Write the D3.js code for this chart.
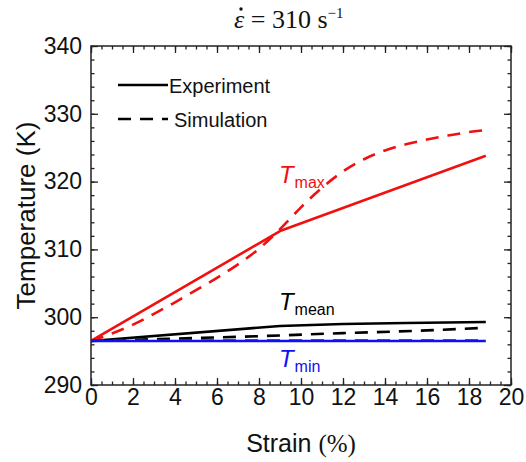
<!DOCTYPE html>
<html>
<head>
<meta charset="utf-8">
<script src="https://cdn.jsdelivr.net/npm/d3@7"></script>
<style>
  body { margin: 0; background: #fff; }
  text { font-family: Arial, "Liberation Sans", sans-serif; }
  .serif { font-family: "Liberation Serif", "Times New Roman", serif; }
</style>
</head>
<body>
<div class="chart"></div>
<script>
const margin = {top: 46, left: 91, right: 15, bottom: 77};
const width = 526 - margin.left - margin.right,
    height = 462 - margin.top - margin.bottom;

// experiment (solid) and simulation (dashed) curves, strain in %, temperature in K
const expMaxStrain = [0, 9, 18.8];
const expMaxTemp = [296.5, 312.7, 323.8];
const simMaxStrain = [0, 1, 2, 3, 4, 5, 6, 7, 8, 9, 10, 11, 12, 13, 14, 15, 16, 17, 18, 18.8];
const simMaxTemp = [296.5, 297.6, 298.9, 300.5, 302.2, 304.0, 305.8, 307.8, 310.1, 313.0,
    316.2, 319.1, 321.5, 323.3, 324.6, 325.5, 326.2, 326.8, 327.3, 327.6];
const expMeanStrain = [0, 9, 12, 15, 18.8];
const expMeanTemp = [296.5, 298.7, 299.0, 299.15, 299.3];
const simMeanStrain = [0, 4, 8, 12, 16, 18.8];
const simMeanTemp = [296.5, 296.85, 297.2, 297.65, 298.05, 298.45];
const expMinStrain = [0, 18.8];
const expMinTemp = [296.5, 296.5];
const simMinStrain = [0, 18.8];
const simMinTemp = [296.55, 296.55];

const xTicks = [0, 2, 4, 6, 8, 10, 12, 14, 16, 18, 20];
const yTicks = [290, 300, 310, 320, 330, 340];

const svg = d3.select(".chart")
    .append("svg")
    .attr("width", width + margin.left + margin.right)
    .attr("height", height + margin.top + margin.bottom);

const g = svg.append("g")
    .attr("transform", "translate(" + margin.left + "," + margin.top + ")");

const x = d3.scaleLinear().domain([0, 20]).range([0, width]);
const y = d3.scaleLinear().domain([290, 340]).range([height, 0]);

const xMinor = d3.range(0, 20.01, 0.5);
const yMinor = d3.range(290, 340.01, 2);

// minor ticks (inward, all four sides)
g.append("g").attr("transform", "translate(0," + height + ")")
    .call(d3.axisBottom(x).tickValues(xMinor).tickSize(-3.5).tickFormat(""));
g.append("g")
    .call(d3.axisTop(x).tickValues(xMinor).tickSize(-3.5).tickFormat(""));
g.append("g")
    .call(d3.axisLeft(y).tickValues(yMinor).tickSize(-3.5).tickFormat(""));
g.append("g").attr("transform", "translate(" + width + ",0)")
    .call(d3.axisRight(y).tickValues(yMinor).tickSize(-3.5).tickFormat(""));

// major ticks
const xAxis = g.append("g").attr("transform", "translate(0," + height + ")")
    .call(d3.axisBottom(x).tickValues(xTicks).tickSize(-7).tickPadding(4).tickFormat(d3.format("d")));
g.append("g")
    .call(d3.axisTop(x).tickValues(xTicks).tickSize(-7).tickFormat(""));
const yAxis = g.append("g")
    .call(d3.axisLeft(y).tickValues(yTicks).tickSize(-7).tickPadding(9).tickFormat(d3.format("d")));
g.append("g").attr("transform", "translate(" + width + ",0)")
    .call(d3.axisRight(y).tickValues(yTicks).tickSize(-7).tickFormat(""));

g.selectAll(".domain").remove();
g.selectAll(".tick line").attr("stroke", "#222").attr("stroke-width", 1.3);
xAxis.selectAll("text").attr("font-size", 23).attr("fill", "#111");
yAxis.selectAll("text").attr("font-size", 23).attr("fill", "#111");

g.append("rect")
    .attr("width", width).attr("height", height)
    .attr("fill", "none").attr("stroke", "#222").attr("stroke-width", 1.5);

const straight = d3.line().x(d => x(d[0])).y(d => y(d[1]));
const smooth = d3.line().x(d => x(d[0])).y(d => y(d[1])).curve(d3.curveMonotoneX);

const series = [
    {s: expMeanStrain, t: expMeanTemp, color: "#000", dash: null, line: straight},
    {s: simMeanStrain, t: simMeanTemp, color: "#000", dash: "13,9", line: smooth},
    {s: expMaxStrain, t: expMaxTemp, color: "#f01010", dash: null, line: straight},
    {s: simMaxStrain, t: simMaxTemp, color: "#f01010", dash: "13,9", line: smooth},
    {s: simMinStrain, t: simMinTemp, color: "#1010f0", dash: "13,9", line: straight},
    {s: expMinStrain, t: expMinTemp, color: "#1010f0", dash: null, line: straight}
];

g.selectAll(".curve")
    .data(series)
    .join("path")
    .attr("class", "curve")
    .attr("fill", "none")
    .attr("stroke", d => d.color)
    .attr("stroke-width", 2.6)
    .attr("stroke-linejoin", "round")
    .attr("stroke-dasharray", d => d.dash)
    .attr("d", d => d.line(d.s.map((v, i) => [v, d.t[i]])));

// curve labels
const labels = [
    {sub: "max", sx: 8.95, ty: 319.8, color: "#f01010"},
    {sub: "mean", sx: 8.95, ty: 301.1, color: "#000"},
    {sub: "min", sx: 8.95, ty: 292.65, color: "#1010f0"}
];
labels.forEach(l => {
    const t = g.append("text")
        .attr("x", x(l.sx)).attr("y", y(l.ty))
        .attr("fill", l.color).attr("font-size", 24);
    t.append("tspan").attr("font-style", "italic").text("T");
    t.append("tspan").attr("dx", 1).attr("dy", 5).attr("font-size", 16).text(l.sub);
});

// legend
const legend = g.append("g").attr("transform", "translate(27,39)");
[["Experiment", null], ["Simulation", "13,9"]].forEach((d, i) => {
    legend.append("line")
        .attr("x1", 0).attr("x2", 50)
        .attr("y1", i * 34).attr("y2", i * 34)
        .attr("stroke", "#000").attr("stroke-width", 2.6)
        .attr("stroke-dasharray", d[1]);
    legend.append("text")
        .attr("x", i === 0 ? 51 : 56).attr("y", i * 34 + 8)
        .attr("font-size", 20).attr("fill", "#111")
        .text(d[0]);
});

// axis titles
svg.append("text")
    .attr("transform", "translate(35," + (margin.top + height / 2) + ") rotate(-90)")
    .attr("text-anchor", "middle")
    .attr("font-size", 26).attr("fill", "#111")
    .text("Temperature (K)");

const xt = svg.append("text")
    .attr("x", margin.left + width / 2).attr("y", 452)
    .attr("text-anchor", "middle")
    .attr("font-size", 25).attr("fill", "#111");
xt.append("tspan").text("Strain ");
xt.append("tspan").attr("class", "serif").text("(%)");

// title: strain rate, with a dot accent over the epsilon
const title = svg.append("text")
    .attr("class", "serif")
    .attr("x", 234).attr("y", 28)
    .attr("font-size", 26).attr("fill", "#111");
const eps = title.append("tspan").attr("font-style", "italic").text("\u03b5");
title.append("tspan").text(" = 310 s");
title.append("tspan").attr("dy", -10).attr("font-size", 15).text("\u22121");
const eb = eps.node().getBBox();
svg.append("circle")
    .attr("cx", eb.x + eb.width / 2 + 1.5).attr("cy", 9)
    .attr("r", 1.7).attr("fill", "#111");
</script>
</body>
</html>
